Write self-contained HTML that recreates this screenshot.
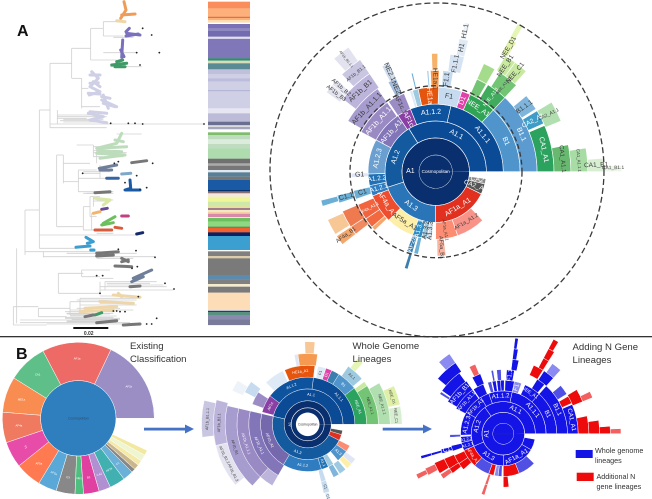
<!DOCTYPE html>
<html lang="en">
<head>
<meta charset="utf-8">
<title>Lineage classification figure</title>
<style>
html,body{margin:0;padding:0;background:#fff;}
svg{display:block;font-family:"Liberation Sans",sans-serif;}
</style>
</head>
<body>
<svg id="fig" xmlns="http://www.w3.org/2000/svg" width="652" height="499" viewBox="0 0 652 499">
  <rect width="652" height="499" fill="#ffffff"/>
  <g id="tree"></g>
  <g id="strip"></g>
  <g id="sunA"></g>
  <circle cx="436" cy="171.7" r="86" fill="none" stroke="#3a3a3a" stroke-width="1.3" stroke-dasharray="5 3"/>
  <circle cx="437" cy="170" r="167" fill="none" stroke="#3a3a3a" stroke-width="1.3" stroke-dasharray="6 3"/>
  <g id="sunB1"></g>
  <g id="sunB2"></g>
  <g id="sunB3"></g>

  <text x="17" y="36" font-size="16" font-weight="bold" fill="#111">A</text>
  <text x="16" y="359" font-size="16" font-weight="bold" fill="#111">B</text>
  <rect x="73.3" y="327" width="35" height="2" fill="#111"/>
  <text x="88.7" y="335" font-size="5" font-weight="bold" text-anchor="middle" fill="#333">0.02</text>
  <rect x="0" y="336" width="652" height="1.3" fill="#333"/>

  <text font-size="9.6" fill="#333"><tspan x="130" y="349">Existing</tspan><tspan x="130" y="362">Classification</tspan></text>
  <text font-size="9.6" fill="#333"><tspan x="352.5" y="349">Whole Genome</tspan><tspan x="352.5" y="362">Lineages</tspan></text>
  <text font-size="9.6" fill="#333"><tspan x="572.5" y="350">Adding N Gene</tspan><tspan x="572.5" y="363">Lineages</tspan></text>

  <g>
    <rect x="144" y="427.7" width="41" height="2.8" fill="#4472c4"/>
    <polygon points="185,424.5 194,429 185,433.5" fill="#4472c4"/>
  </g>
  <g>
    <rect x="382.7" y="427.7" width="41" height="2.8" fill="#4472c4"/>
    <polygon points="423,424.5 432,429 423,433.5" fill="#4472c4"/>
  </g>

  <g>
    <rect x="575.7" y="450" width="17" height="8" fill="#1414e6"/>
    <text font-size="7.2" fill="#333"><tspan x="595" y="453">Whole genome</tspan><tspan x="595" y="463">lineages</tspan></text>
    <rect x="576.7" y="472.7" width="17" height="8.3" fill="#ee0b0b"/>
    <text font-size="7.2" fill="#333"><tspan x="596.5" y="479">Additional N</tspan><tspan x="596.5" y="489">gene lineages</tspan></text>
  </g>
</svg>

<script>
/* ---------- tree data: [divergence, row ...] in tree units (105 units = 0.02 subs/site) ---------- */
const treeStems = [
  [40,920,975],[50,745,970],[75,630,765],[118,330,745],[150,190,383],[215,145,235],[272,85,180],[310,65,108],
  [245,235,325],[172,330,372],[170,465,680],[190,465,550],[235,510,575],[250,620,690],[270,590,650],[175,820,880],
  [245,810,830],[115,925,950],[210,905,945],[280,435,470],[290,440,490],[300,495,535],[280,590,620],[275,640,690],
  [130,755,772],[300,845,880],[315,845,870],[240,895,935]
];
const treeBranches = [
  [975,40,140],[920,40,115],[950,115,200],[925,115,210],[905,210,300],[945,210,260],[880,175,300],[820,175,250],
  [830,245,300],[810,245,330],[770,130,465],[755,75,300],[745,118,230],[705,118,410],[680,170,250],[690,250,290],
  [620,250,270],[590,270,300],[650,270,290],[575,235,340],[545,190,235],[510,235,290],[535,235,320],[465,170,190],
  [490,190,270],[440,280,340],[470,280,370],[435,230,280],[330,118,150],[190,150,215],[145,215,272],[235,215,245],
  [85,272,310],[65,310,360],[108,310,370],[180,272,350],[265,245,265],[320,245,300],[345,172,300],[372,150,612],
  [383,150,320],[355,172,260],[630,75,118],[960,60,350],[968,60,390],[972,140,400],[930,210,400],[895,240,420],
  [860,300,500],[845,315,470],[870,300,520],[775,290,400],[158,310,410],[200,330,425],[112,340,400],[760,200,410],
  [955,195,360],[940,200,340],[915,240,410],[965,200,300],[910,300,400],[835,300,340],[580,260,340],[700,290,340],
  [402,350,425],[520,250,300],[600,290,340],[935,195,345],[942,200,330],[948,210,350],[952,195,340],[958,215,360],
  [963,200,340],[350,172,320],[358,190,310],[362,180,300],[925,230,360],[900,230,410],[888,300,400],[366,190,320],
  [452,280,360],[458,280,380],[515,250,330],[580,250,300],[603,280,320],[855,320,490],[850,320,450]
];
const treeClusters = [
  ["orange",[[372,5],[378,30],[362,55]]],["orange",[[365,45],[405,42]]],["tan",[[350,62],[375,65]]],
  ["purple",[[378,95],[388,85]]],["purple",[[380,100],[420,105]]],["purple",[[378,108],[415,102]]],
  ["purple",[[368,120],[365,172]]],["purple",[[362,150],[372,170]]],
  ["green",[[335,195],[380,190]]],["green",[[345,200],[375,200]]],["green",[[350,185],[368,180]]],
  ["lav",[[275,215],[295,235],[270,260],[300,275],[268,285]]],["lav",[[280,245],[300,260]]],
  ["lav",[[265,280],[300,282]]],["lav",[[270,225],[300,225]]],["lav",[[270,250],[295,248]]],["lav",[[305,290],[330,295]]],
  ["lav",[[310,310],[345,320]]],["lav",[[270,335],[320,340]]],
  ["lav",[[310,285],[325,325]]],["lav",[[305,300],[350,320]]],["lav",[[265,340],[310,350],[270,360],[320,368]]],
  ["pgreen",[[365,400],[350,430],[290,445],[380,440]]],["pgreen",[[290,460],[375,465],[300,475]]],["pgreen",[[345,420],[370,425]]],["pgreen",[[295,452],[365,455]]],
  ["gray",[[395,488],[440,482]]],["slate",[[298,505],[350,495]]],["slate",[[300,510],[335,510]]],
  ["steel",[[320,535],[355,535]]],["sky",[[365,522],[392,520]]],
  ["blue",[[390,540],[392,565],[375,570],[420,570]]],["gray",[[285,578],[330,575]]],
  ["yellow",[[285,595],[330,600],[310,615]]],["violet",[[305,628],[322,625]]],["amber",[[280,640],[300,635]]],["rose",[[365,648],[385,648]]],
  ["lime",[[310,670],[345,650]]],["lime",[[305,675],[340,668]]],["rust",[[285,690],[335,690]]],["rust",[[345,682],[365,685]]],
  ["navy",[[410,702],[428,698]]],
  ["cyan",[[258,712],[280,725],[262,730]]],["cyan",[[228,742],[270,738]]],["cyan",[[272,750],[282,750]]],
  ["gray",[[290,760],[355,755]]],["gray",[[290,768],[340,765]]],["gray",[[365,775],[385,785]]],["gray",[[345,798],[395,800]]],["gray",[[365,785],[385,780]]],
  ["slate",[[400,835],[455,810]]],["slate",[[395,845],[430,830]]],["gray",[[390,860],[420,858]]],
  ["tan",[[355,880],[365,890]]],["tan",[[300,905],[400,910]]],["tan",[[255,925],[350,920]]],["tan",[[240,935],[340,930]]],["tan",[[340,885],[420,892]]],
  ["green",[[285,945],[305,938]]],["gray",[[255,950],[280,945]]],["gray",[[290,968],[350,962]]],["gray",[[370,975],[420,972]]]
];
const treeTips = [
  [428,85],[455,105],[478,158],[410,158],[420,195],[332,370],[385,370],[405,370],[428,372],[612,372],[458,490],[343,490],
  [410,527],[440,563],[420,568],[375,548],[465,772],[408,752],[355,748],[412,800],[522,867],[495,850],[470,955],[455,972],
  [440,972],[360,935],[415,890],[248,520],[308,827],[290,827],[300,880],[355,485],[396,805],[375,935],[350,933],[340,933]
];
/* ---------- colour strip: lineage key and number of tips per band ---------- */
const stripLineages = ["s00","s01","s02","s01","s03","gap","s05","s06","s07","s08","gap","s09","s10","s11","s12","s13","s14","s15","s14","s16","s14","s17","s18","s19","s20","s21","gap","s22","s23","s24","s23","s25","s26","s27","s28","s29","s30","s28","s31","s32","s33","s34","s35","s37","s36","s38","s39","s40","s41","gap","s42","s43","s44","s45","s46","s47","gap","s49","s50","s51","s52","s53","s54","s55","s57","gap","s58","s59","s60","s61"];
const stripTips = [20,25,4,6,8,4,13,7,16,4,4,59,7,8,18,14,13,10,25,4,51,15,25,11,4,8,9,8,13,14,13,31,14,7,13,7,13,10,30,4,6,10,15,10,9,6,7,5,10,2,11,15,3,14,11,42,4,14,7,50,13,14,8,18,52,2,4,10,12,17];
/* ---------- panel A sunburst: [label, ring, startDeg, endDeg, lineageKey] ---------- */
const sunARows = [
  ["Cosmopolitan",0,0,360,"navy"],["A1",1,0,360,"navy"],
  ["A1.1",2,0,122,"d1"],["A1.2",2,122,198,"d2"],["A1.3",2,198,270,"d3"],["AF1a_A1",2,270,334,"red"],["CA2_A1",2,334,346,"char"],["CA2",2,346,352,"ash"],
  ["A1.1.1",3,0,77,"d1"],["A1.1.2",3,77,112,"d1b"],["AF1c",3,112,124,"mag"],["AF1b_A1",3,124,152,"pur"],["A1.2.3",3,152,182,"m1"],["A1.2.2",3,182,192,"m2"],["A1.2.1",3,192,201,"m3"],
  ["AF4a_A1",3,201,226,"org"],["AF5a_A1",3,226,250,"cream"],["A1.3.1",3,250,258,"m4"],["A1.3.2",3,258,263,"p1"],["A1.3.3",3,263,267,"p2"],["AF1a_A1.1",3,270,289,"sal"],["AF1a_A1.2",3,289,314,"sal2"],
  ["B1",4,0,47,"m5"],["NEE_A1",4,47,66,"g1"],["D1",4,66,72,"pink"],["F1",4,72,88,"p3"],["HE1a",4,88,102,"hot"],["",4,102,106,"p1"],["",4,106,108,"p4"],["AF1c.1",4,112,124,"pur2"],["AF1b_A1.1",4,125,152,"pur3"],
  ["G1",4,181,184,"p5"],["C1",4,193,199,"m6"],["AF4a_A1.1",4,203,214,"org2"],["",4,214,221,"org3"],["",4,221,224,"amber"],["AF2a",4,250,254,"m7"],["",4,255,258,"m6"],["AF5a_B1",4,271,277,"sal3"],
  ["B1.1",5,0,47,"m8"],["NEE_A1.1",5,47,59,"g2"],["",5,60,66,"g3"],["F1.1",5,80,86,"p3"],["HE1a.1",5,88,93,"hot2"],["",5,94,95,"p1"],["",5,103,104,"m6"],["NE2",5,113,118,"p6"],["AF1b_A1.1.1",5,125,150,"pur4"],["C1.1",5,193.5,198,"m6"],["",5,203,213,"org4"],["",5,213,218,"org5"],["",5,252,254,"m7"],
  ["CA1_A1",6,0,23,"g4"],["CA2_A1",6,24,31,"m9"],["B1.1.1",6,32,40,"m10"],["NEE_A1.1.1",6,47,57,"g3"],["",6,60,66,"g5"],["F1.1.1",6,76,83,"p7"],["",6,89,92,"hot3"],["NE2.1",6,113,117,"p8"],["AF1b_B1",6,124,142,"pur5"],["",6,194,197,"m6"],["",6,204,212,"tan"],["AF4a_B1",6,213,218,"amber"],
  ["CA1_A1.1",7,0,11.5,"g6"],["CA2_A1.1",7,22,31,"g7"],["NEE_C1",7,48,54,"g8"],["NEE_B1",7,54,59,"g8"],["H1",7,76,80,"p9"],["AF1b_B1.1",7,124,134,"pur6"],["AF1b_B2",7,137,140,"pur7"],["AF1b_B3",7,140,144,"pur7"],
  ["CA1_A1.1.1",8,0,9,"g9"],["NEE_D1",8,58,61,"ly1"],["H1.1",8,77,79,"p10"],["AF1b_B1.1.1",8,125,132,"pur7"],
  ["CA1_B1",9,0,4.6,"g10"],["",9,59,61,"ly2"],["CA1_B1.1",10,0,2,"g11"]
];
/* ---------- existing classification: [label, startDeg, endDeg, lineageKey] ---------- */
const existingRows = [
  ["AF1b",0,64.6,"eb1"],["AF1a",64.6,117.7,"eb2"],["CA1",117.7,148,"eb3"],["ME1a",148,175.4,"eb4"],["AF4a",175.4,198.7,"eb5"],["F1",198.7,218.7,"eb6"],
  ["AF5a",218.7,238.8,"eb7"],["AF3a",238.8,253,"eb8"],["E3",253,267.5,"eb9"],["NE1",267.5,274,"eb10"],["B1",274,286,"eb11"],["CA2",286,295,"eb12"],
  ["AF2a",295,307,"eb13"],["C1",307,315,"eb14"],["",315,318,"eb9"],["",318,322,"eb15"],["",322,326,"eb16"],["",326,331,"eb17"],["",331,335,"eb18"]
];
/* ---------- whole genome lineages: [label, ring, startDeg, endDeg, lineageKey] ---------- */
const sunB2Rows = [
  ["A1",1,0,360,"navy"],
  ["A1.1",2,0,167,"d1"],["A1.3",2,167,333,"d2"],["",2,333,343,"red"],["",2,343,350,"char"],
  ["A1.1.1",3,0,83,"d1"],["A1.1.2",3,83,143,"d1b"],["AF1c",3,143,165,"mag"],["AF1b_A1",3,167,239,"pur0"],["A1.1.2",3,239,287,"m3"],["A1.1",3,287,296,"m2"],["",3,296,303,"p1"],["A1.3",3,310,325,"m5"],["",3,325,333,"sal"],
  ["NEE_A1",4,0,38,"g4"],["B1",4,38,58,"m5"],["",4,58,66,"m7"],["D1",4,66,72,"pink"],["F1",4,72,80,"p4"],["HE1a_A1",4,83,113,"hot"],["",4,115,135,"p4"],["",4,147,160,"pur2"],
  ["AF1b_A1.1",4,167,240,"pur"],["",4,283,288,"p3"],["",4,296,302,"m10"],["",4,303,310,"p1"],["",4,312,318,"cream"],["",4,318,324,"p5"],
  ["NEE_A1.1",5,0,33,"g3"],["",5,33,37,"g8"],["A1.1",5,40,55,"p1"],["",5,82,98,"hot2"],["",5,98,101,"p5"],["",5,143,153,"p3"],
  ["AF1b_A1.1.1",5,167,228,"pur3"],["",5,228,240,"pur5"],["C1",5,283,288,"p3"],
  ["NEE_A1.1.1",6,0,30,"g7"],["",6,48,53,"ly2"],["",6,85,92,"tan"],["",6,148,156,"p10"],
  ["AF1b_B1",6,167,228,"pur4"],["C1.1",6,284,287,"p4"],
  ["NEE_C1",7,0,11,"g10"],["NEE_D1",7,12,24,"ly1"],["AF1b_B1.1",7,165,193,"pur5"],["AF1b_B1.2 AF1b_B1.3",7,193,220,"pur7"],
  ["AF1b_B1.1.1",8,167,187,"pur6"]
];
/* ---------- adding N gene lineages: [label, ring, startDeg, endDeg, source] ---------- */
const sunB3Rows = [
  ["Cosmopolitan",0,0,360,"w"],["A1",1,0,360,"w"],
  ["A1.1",2,0,125,"w"],["A1.2",2,125,203,"w"],["A1.3",2,203,270,"w"],["AF1a_A1",2,270,330,"w"],["",2,330,350,"w"],
  ["A1.1.1",3,0,78,"w"],["A1.1.2",3,78,110,"w"],["",3,110,122,"w"],["AF1b_A1",3,122,150,"w"],["A1.2.3",3,150,182,"w"],["A1.2.2",3,184,192,"w"],["A1.2.1",3,192,203,"w"],["AF4a_A1",3,203,228,"n"],["",3,228,250,"l"],["",3,250,257,"n"],["",3,258,263,"x"],["",3,263,268,"l"],["",3,270,292,"n"],["",3,292,316,"l"],
  ["B1",4,0,48,"w"],["NEE_A1",4,48,66,"w"],["F1",4,70,78,"x"],["",4,78,88,"w"],["",4,89,93,"w"],["",4,93,97,"w"],["",4,98,102,"w"],["",4,103,107,"l"],["",4,112,124,"w"],["AF1b_A1.1",4,125,152,"w"],["",4,181,184,"l"],["",4,193,199,"w"],["",4,204,214,"n"],["",4,214,222,"n"],["",4,250,253,"p"],["",4,270,276,"n"],
  ["B1.1",5,0,48,"w"],["",5,50,58,"w"],["F1.1",5,80,87,"w"],["",5,92,96,"l"],["",5,99,101,"l"],["",5,111,119,"w"],["AF1b_B1",5,125,150,"w"],["C1",5,194,198,"w"],["",5,203,213,"n"],["",5,213,218,"n"],["",5,250,253,"p"],
  ["CA1_A1",6,0,23,"w"],["",6,24,30,"n"],["",6,32,40,"l"],["",6,48,57,"w"],["",6,58,66,"n"],["",6,78,83,"w"],["",6,112,117,"p"],["",6,146,148,"l"],["",6,126,145,"w"],["",6,195,197,"w"],["",6,203,212,"n"],["",6,213,217,"p"],
  ["",7,0,12,"n"],["",7,22,31,"n"],["",7,48,55,"x"],["",7,58,62,"n"],["",7,80,83,"w"],["",7,124,140,"w"],["",7,195,197,"w"],["",7,204,209,"p"],
  ["",8,0,8,"n"],["",8,22,26,"p"],["",8,58,62,"n"],["",8,81,83,"w"],["",8,124,132,"x"],["",8,205,208,"p"],
  ["",9,0,4,"n"],["",9,59,62,"n"],["",10,0,2.5,"p"]
];

/* ---------- styles, kept apart from data ---------- */
const treeColors = {orange:"#ef9c58",tan:"#efd6a8",purple:"#7a70bd",green:"#3e9a66",lav:"#cfcfe6",pgreen:"#bcdcbc",gray:"#777777",slate:"#6f7f9a",steel:"#3465a4",sky:"#7fa8c8",blue:"#1a5aa5",yellow:"#d9e8a8",violet:"#6a4a9a",amber:"#f4b46a",rose:"#c04080",lime:"#6cbf5c",rust:"#d85c3c",navy:"#14296b",cyan:"#3a9fd0"};
const stripColors = {gap:"#ffffff",s00:"#f98d5c",s01:"#fdb07a",s02:"#e5703f",s03:"#fddcb0",s05:"#7a70b5",s06:"#8f88c2",s07:"#736bb0",s08:"#9b95c8",s09:"#7f77b8",s10:"#2f8f6d",s11:"#d6dcb8",s12:"#5a8a93",s13:"#c0c0dc",s14:"#cfcfe6",s15:"#bcbcdc",s16:"#b5b5d5",s17:"#e6e6f2",s18:"#bcbcd8",s19:"#6b6f8f",s20:"#f2f2f2",s21:"#a5a5bb",s22:"#7ebd6a",s23:"#c0dcc0",s24:"#dcecdc",s25:"#aedcae",s26:"#707070",s27:"#aaaaaa",s28:"#777777",s29:"#e0e8f0",s30:"#5a8098",s31:"#1a5aa5",s32:"#08306b",s33:"#8a7070",s34:"#f5e8e0",s35:"#eef59a",s36:"#e2e2a0",s37:"#cde8a8",s38:"#a57a8a",s39:"#f0e8c0",s40:"#f9c09a",s41:"#d888a8",s42:"#6cc060",s43:"#90d880",s44:"#3a7a3a",s45:"#f06030",s46:"#0a2060",s47:"#3ba0d0",s49:"#808080",s50:"#dcccaa",s51:"#7a7a7a",s52:"#5b8cb0",s53:"#808080",s54:"#f5ecd0",s55:"#7a7a7a",s57:"#fddcb8",s58:"#2a3a70",s59:"#5a9080",s60:"#8a8ab0",s61:"#7a7a9a"};
const lineageColors = {navy:"#0a2f6f",d1:"#0b4a94",d1b:"#0d539e",d2:"#145a9f",d3:"#2a75b8",red:"#e1301f",char:"#555555",ash:"#888888",mag:"#8a3fa5",pur0:"#7568ad",pur:"#8276b8",m1:"#6a9fcf",m2:"#2171b5",m3:"#2f7cc0",org:"#ee4e2e",cream:"#fdeea8",m4:"#2e8bc4",p1:"#9ecae1",p2:"#cfe0f0",sal:"#fc8d72",sal2:"#f8938a",m5:"#4f95cc",g1:"#31a354",pink:"#e040a8",p3:"#c6dbef",hot:"#e6550d",p4:"#deebf7",pur2:"#9c8cc6",pur3:"#9a8ac4",p5:"#e0e6f5",m6:"#6baed6",org2:"#f1643f",org3:"#f2683f",amber:"#f5a66a",m7:"#3a7fb0",sal3:"#fbb4a0",m8:"#5b9bd0",g2:"#41ab5d",g3:"#74c476",hot2:"#f59a50",p6:"#a6bddb",pur4:"#a79cce",org4:"#f07a50",org5:"#f08a60",g4:"#2ca25f",m9:"#3f9cc6",m10:"#7fb5dc",g5:"#a4dc8c",p7:"#d5e3f2",hot3:"#f7b26a",p8:"#cfdcec",pur5:"#bcb4da",pur6:"#c9c6e2",pur7:"#e3e3f0",tan:"#f7c796",g6:"#66b96e",g7:"#b2dfb0",g8:"#c7e9a0",p9:"#e0eaf5",g9:"#a8dca5",ly1:"#dff0a8",p10:"#eef3f9",g10:"#d8eed3",ly2:"#e5f5b5",g11:"#eef6ea"};
const existingColors = {eb1:"#9b8ec4",eb2:"#ee6a66",eb3:"#5fbf88",eb4:"#f98c50",eb5:"#ef7a5f",eb6:"#e74da8",eb7:"#ff7a50",eb8:"#5aa8d8",eb9:"#888888",eb10:"#4fbf80",eb11:"#e040a0",eb12:"#b090d0",eb13:"#40b0b0",eb14:"#6ab0d8",eb15:"#c9b68a",eb16:"#f5e9a8",eb17:"#eef5d0",eb18:"#f2e8a0"};
const sourceColors = {w:"#1414e6",l:"#5050e4",x:"#8a8af0",n:"#ee0b0b",p:"#f26060"};

const NS = "http://www.w3.org/2000/svg";

/* ---------- axis functions ---------- */
function treeX(div){ return div / 3; }
function treeY(row){ return row / 3; }
function polarX(cx, r, deg){ return cx + r * Math.cos(deg * Math.PI / 180); }
function polarY(cy, r, deg){ return cy - r * Math.sin(deg * Math.PI / 180); }

function wedgePath(cx, cy, r0, r1, a0, a1){
  const end = a1 - a0 >= 360 ? a0 + 359.5 : a1;
  const big = end - a0 > 180 ? 1 : 0;
  const p = (r, a) => polarX(cx, r, a).toFixed(3) + " " + polarY(cy, r, a).toFixed(3);
  let d = "M" + p(r1, a0) + " A" + r1 + " " + r1 + " 0 " + big + " 0 " + p(r1, end);
  if (r0 > 0) {
    d += " L" + p(r0, end) + " A" + r0 + " " + r0 + " 0 " + big + " 1 " + p(r0, a0);
  } else {
    d += " L" + cx + " " + cy;
  }
  return d + " Z";
}

function isDark(hex){
  const n = parseInt(hex.slice(1), 16);
  return 0.3 * (n >> 16) + 0.59 * ((n >> 8) & 255) + 0.11 * (n & 255) < 150;
}

function drawLabel(group, text, x, y, rot, size, fill){
  const t = document.createElementNS(NS, "text");
  
  
  t.setAttribute("x", x.toFixed(2));
  t.setAttribute("y", y.toFixed(2));
  t.setAttribute("font-size", size.toFixed(2));
  t.setAttribute("fill", fill);
  t.setAttribute("text-anchor", "middle");
  t.setAttribute("dominant-baseline", "central");
  t.setAttribute("transform", "rotate(" + rot.toFixed(1) + " " + x.toFixed(2) + " " + y.toFixed(2) + ")");
  t.textContent = text;
  group.appendChild(t);
}

function drawSunburst(groupId, rows, colorOf, cfg){
  const group = document.getElementById(groupId);
  rows.forEach(function(row){
    const ring = row[1], a0 = row[2], a1 = row[3];
    const r0 = ring === 0 ? 0 : (ring === 1 && cfg.hole ? cfg.hole : ring * cfg.unit);
    const r1 = (ring + 1) * cfg.unit;
    const path = document.createElementNS(NS, "path");
    
    
    path.setAttribute("d", wedgePath(cfg.cx, cfg.cy, r0, r1, a0, a1));
    path.setAttribute("fill", colorOf(row[4]));
    path.setAttribute("stroke", a1 - a0 >= 360 ? "none" : "#ffffff");
    path.setAttribute("stroke-width", cfg.stroke);
    group.appendChild(path);
    if (a1 - a0 >= 360) {
      const edge = document.createElementNS(NS, "circle");
      
      
      edge.setAttribute("cx", cfg.cx);
      edge.setAttribute("cy", cfg.cy);
      edge.setAttribute("r", r1);
      edge.setAttribute("fill", "none");
      edge.setAttribute("stroke", "#ffffff");
      edge.setAttribute("stroke-width", cfg.stroke + 0.2);
      group.appendChild(edge);
    }
  });
  rows.forEach(function(row){
    const label = row[0], ring = row[1], a0 = row[2], a1 = row[3];
    if (!label) return;
    const fill = isDark(colorOf(row[4])) ? "#ffffff" : "#3a3a3a";
    const full = a1 - a0 >= 360;
    if (ring === 0) {
      drawLabel(group, label, cfg.cx, cfg.cy, 0, cfg.centerSize, cfg.centerFill);
      return;
    }
    const r0 = ring === 1 && cfg.hole ? cfg.hole : ring * cfg.unit;
    const rm = (r0 + (ring + 1) * cfg.unit) / 2;
    const mid = full ? 180 : (a0 + a1) / 2;
    const x = polarX(cfg.cx, rm, mid), y = polarY(cfg.cy, rm, mid);
    if (full) {
      drawLabel(group, label, x, y, cfg.a1Rot, cfg.maxFont, fill);
      return;
    }
    const arcLen = (a1 - a0) * Math.PI / 180 * rm;
    const tangential = arcLen > cfg.unit * 1.25;
    const norm = (mid + 360) % 360;
    let rot, avail;
    if (tangential) {
      rot = norm > 180 ? 270 - norm : 90 - norm;
      avail = arcLen * 0.95;
    } else {
      rot = norm > 90 && norm < 270 ? 180 - norm : -norm;
      avail = cfg.unit * 1.15;
    }
    const size = Math.max(cfg.minFont, Math.min(cfg.maxFont, avail / (label.length * 0.5)));
    drawLabel(group, label, x, y, rot, size, fill);
  });
}

/* ---------- tree ---------- */
(function(){
  const g = document.getElementById("tree");
  treeStems.forEach(function(s){
    const l = document.createElementNS(NS, "line");
    
    
    l.setAttribute("x1", treeX(s[0])); l.setAttribute("x2", treeX(s[0]));
    l.setAttribute("y1", treeY(s[1])); l.setAttribute("y2", treeY(s[2]));
    l.setAttribute("stroke", "#d0d0d0"); l.setAttribute("stroke-width", "0.8");
    g.appendChild(l);
  });
  treeBranches.forEach(function(b){
    const l = document.createElementNS(NS, "line");
    
    
    l.setAttribute("x1", treeX(b[1])); l.setAttribute("x2", treeX(b[2]));
    l.setAttribute("y1", treeY(b[0])); l.setAttribute("y2", treeY(b[0]));
    l.setAttribute("stroke", "#d0d0d0"); l.setAttribute("stroke-width", "0.8");
    g.appendChild(l);
  });
  treeClusters.forEach(function(c){
    const p = document.createElementNS(NS, "polyline");
    
    
    p.setAttribute("points", c[1].map(function(q){ return treeX(q[0]).toFixed(1) + "," + treeY(q[1]).toFixed(1); }).join(" "));
    p.setAttribute("fill", "none");
    p.setAttribute("stroke", treeColors[c[0]]);
    p.setAttribute("stroke-width", "3");
    p.setAttribute("stroke-linecap", "round");
    p.setAttribute("stroke-linejoin", "round");
    g.appendChild(p);
  });
  treeTips.forEach(function(t){
    const d = document.createElementNS(NS, "circle");
    
    
    d.setAttribute("cx", treeX(t[0])); d.setAttribute("cy", treeY(t[1])); d.setAttribute("r", "0.9");
    d.setAttribute("fill", "#222");
    g.appendChild(d);
  });
})();

/* ---------- strip ---------- */
(function(){
  const g = document.getElementById("strip");
  let tips = 5;
  stripLineages.forEach(function(key, i){
    const r = document.createElementNS(NS, "rect");
    
    
    r.setAttribute("x", 208); r.setAttribute("width", 42);
    r.setAttribute("y", treeY(tips).toFixed(2));
    r.setAttribute("height", (treeY(stripTips[i]) + 0.1).toFixed(2));
    r.setAttribute("fill", stripColors[key]);
    g.appendChild(r);
    tips += stripTips[i];
  });
})();

/* ---------- sunbursts ---------- */
drawSunburst("sunA", sunARows, function(k){ return lineageColors[k]; },
  {cx:435.7, cy:171.7, unit:16.9, hole:0, stroke:0.6, maxFont:7, minFont:2.4, centerSize:4.6, centerFill:"#ffffff", a1Rot:0});

(function(){
  const g = document.getElementById("sunB1");
  const cx = 78.3, cy = 418.3, rIn = 37.7, rOut = 76;
  existingRows.forEach(function(row){
    const p = document.createElementNS(NS, "path");
    
    
    p.setAttribute("d", wedgePath(cx, cy, rIn, rOut, row[1], row[2]));
    p.setAttribute("fill", existingColors[row[3]]);
    p.setAttribute("stroke", "#ffffff");
    p.setAttribute("stroke-width", "0.5");
    g.appendChild(p);
    if (row[0]) {
      const mid = (row[1] + row[2]) / 2, rm = (rIn + rOut) / 2 + 3;
      const norm = mid > 180 ? 270 - mid : 90 - mid;
      const rot = row[2] - row[1] > 20 ? 0 : norm;
      drawLabel(g, row[0], polarX(cx, rm, mid), polarY(cy, rm, mid), rot, 2.8, "#ffffff");
    }
  });
  const disc = document.createElementNS(NS, "circle");
  
  
  disc.setAttribute("cx", cx); disc.setAttribute("cy", cy); disc.setAttribute("r", rIn);
  disc.setAttribute("fill", "#2f7fbf");
  disc.setAttribute("stroke", "#ffffff");
  disc.setAttribute("stroke-width", "0.5");
  g.appendChild(disc);
  drawLabel(g, "Cosmopolitan", cx, cy, 0, 3.4, "#2b4f70");
})();

drawSunburst("sunB2", sunB2Rows, function(k){ return lineageColors[k]; },
  {cx:307.7, cy:424.3, unit:11.8, hole:11.8, stroke:0.4, maxFont:3.8, minFont:2, centerSize:3, centerFill:"#333333", a1Rot:-90});
(function(){
  const g = document.getElementById("sunB2");
  const ring = document.createElementNS(NS, "circle");
  
  
  ring.setAttribute("cx", 307.7); ring.setAttribute("cy", 424.3); ring.setAttribute("r", 16.5);
  ring.setAttribute("fill", "none"); ring.setAttribute("stroke", "#ffffff"); ring.setAttribute("stroke-width", "0.6");
  g.appendChild(ring);
  drawLabel(g, "Cosmopolitan", 307.7, 424.3, 0, 3.2, "#333333");
})();

drawSunburst("sunB3", sunB3Rows, function(k){ return sourceColors[k]; },
  {cx:503.3, cy:433.7, unit:10.7, hole:0, stroke:0.5, maxFont:6.2, minFont:2, centerSize:3, centerFill:"#2a2aa0", a1Rot:-90});
</script>
</body>
</html>
